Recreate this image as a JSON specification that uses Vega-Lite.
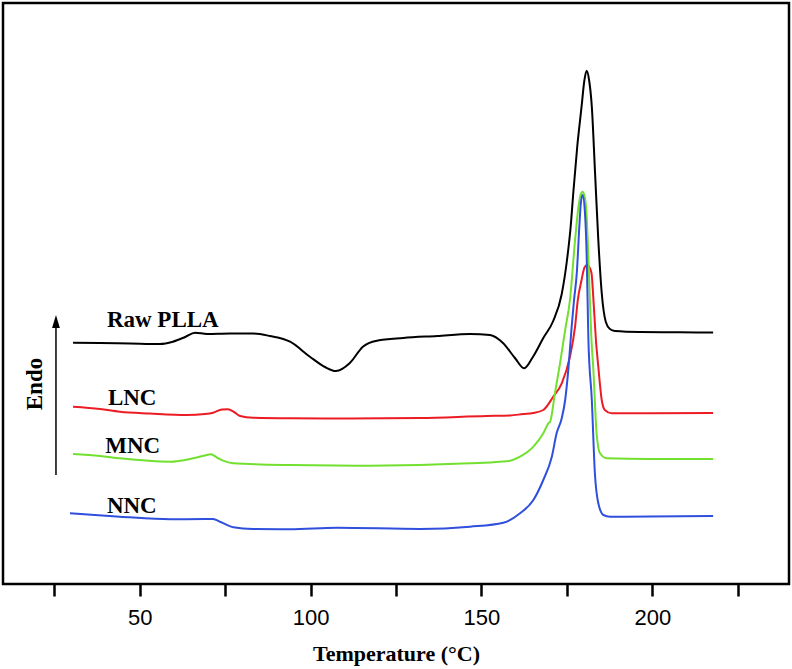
{
  "$schema": "https://vega.github.io/schema/vega-lite/v6.json",
  "width": 786,
  "height": 581,
  "autosize": "none",
  "padding": {"left": 3, "top": 3, "right": 3, "bottom": 85},
  "background": "white",
  "config": {
    "view": {"stroke": "black", "strokeWidth": 2.5},
    "text": {"font": "Liberation Serif"}
  },
  "datasets": {
    "curves": [
      {"sample": "Raw PLLA", "T": 30.5, "Q": 241.3},
      {"sample": "Raw PLLA", "T": 38.4, "Q": 241.0},
      {"sample": "Raw PLLA", "T": 47.2, "Q": 240.5},
      {"sample": "Raw PLLA", "T": 55.9, "Q": 240.0},
      {"sample": "Raw PLLA", "T": 59.7, "Q": 242.3},
      {"sample": "Raw PLLA", "T": 63.3, "Q": 247.0},
      {"sample": "Raw PLLA", "T": 66.2, "Q": 251.3},
      {"sample": "Raw PLLA", "T": 69.7, "Q": 250.0},
      {"sample": "Raw PLLA", "T": 76.4, "Q": 250.5},
      {"sample": "Raw PLLA", "T": 83.2, "Q": 250.5},
      {"sample": "Raw PLLA", "T": 88.1, "Q": 248.0},
      {"sample": "Raw PLLA", "T": 94.0, "Q": 242.3},
      {"sample": "Raw PLLA", "T": 99.8, "Q": 227.3},
      {"sample": "Raw PLLA", "T": 104.2, "Q": 217.0},
      {"sample": "Raw PLLA", "T": 107.4, "Q": 213.0},
      {"sample": "Raw PLLA", "T": 111.5, "Q": 221.0},
      {"sample": "Raw PLLA", "T": 115.3, "Q": 237.3},
      {"sample": "Raw PLLA", "T": 119.4, "Q": 243.3},
      {"sample": "Raw PLLA", "T": 127.1, "Q": 246.0},
      {"sample": "Raw PLLA", "T": 137.0, "Q": 248.0},
      {"sample": "Raw PLLA", "T": 146.7, "Q": 250.0},
      {"sample": "Raw PLLA", "T": 152.5, "Q": 249.0},
      {"sample": "Raw PLLA", "T": 156.3, "Q": 241.0},
      {"sample": "Raw PLLA", "T": 159.8, "Q": 226.0},
      {"sample": "Raw PLLA", "T": 162.5, "Q": 215.7},
      {"sample": "Raw PLLA", "T": 165.1, "Q": 227.3},
      {"sample": "Raw PLLA", "T": 168.1, "Q": 246.0},
      {"sample": "Raw PLLA", "T": 171.0, "Q": 263.0},
      {"sample": "Raw PLLA", "T": 173.5, "Q": 290.0},
      {"sample": "Raw PLLA", "T": 175.0, "Q": 323.0},
      {"sample": "Raw PLLA", "T": 176.1, "Q": 357.0},
      {"sample": "Raw PLLA", "T": 176.9, "Q": 392.0},
      {"sample": "Raw PLLA", "T": 178.05, "Q": 438.0},
      {"sample": "Raw PLLA", "T": 179.3, "Q": 477.3},
      {"sample": "Raw PLLA", "T": 180.1, "Q": 503.0},
      {"sample": "Raw PLLA", "T": 180.8, "Q": 513.3},
      {"sample": "Raw PLLA", "T": 181.5, "Q": 504.0},
      {"sample": "Raw PLLA", "T": 182.3, "Q": 477.3},
      {"sample": "Raw PLLA", "T": 183.25, "Q": 411.0},
      {"sample": "Raw PLLA", "T": 184.2, "Q": 344.0},
      {"sample": "Raw PLLA", "T": 185.2, "Q": 291.0},
      {"sample": "Raw PLLA", "T": 186.4, "Q": 262.0},
      {"sample": "Raw PLLA", "T": 187.6, "Q": 255.0},
      {"sample": "Raw PLLA", "T": 189.1, "Q": 253.0},
      {"sample": "Raw PLLA", "T": 196.4, "Q": 252.0},
      {"sample": "Raw PLLA", "T": 208.1, "Q": 251.7},
      {"sample": "Raw PLLA", "T": 217.8, "Q": 251.5},

      {"sample": "LNC", "T": 30.5, "Q": 177.3},
      {"sample": "LNC", "T": 38.4, "Q": 175.0},
      {"sample": "LNC", "T": 44.2, "Q": 172.3},
      {"sample": "LNC", "T": 53.0, "Q": 170.5},
      {"sample": "LNC", "T": 63.8, "Q": 169.0},
      {"sample": "LNC", "T": 69.1, "Q": 170.0},
      {"sample": "LNC", "T": 71.5, "Q": 171.3},
      {"sample": "LNC", "T": 74.1, "Q": 174.5},
      {"sample": "LNC", "T": 75.8, "Q": 174.7},
      {"sample": "LNC", "T": 77.6, "Q": 172.0},
      {"sample": "LNC", "T": 79.4, "Q": 168.0},
      {"sample": "LNC", "T": 83.2, "Q": 166.3},
      {"sample": "LNC", "T": 94.0, "Q": 165.7},
      {"sample": "LNC", "T": 111.5, "Q": 165.5},
      {"sample": "LNC", "T": 132.0, "Q": 166.0},
      {"sample": "LNC", "T": 151.5, "Q": 168.0},
      {"sample": "LNC", "T": 158.4, "Q": 168.5},
      {"sample": "LNC", "T": 162.2, "Q": 170.0},
      {"sample": "LNC", "T": 165.1, "Q": 171.0},
      {"sample": "LNC", "T": 168.1, "Q": 174.0},
      {"sample": "LNC", "T": 171.0, "Q": 187.3},
      {"sample": "LNC", "T": 173.5, "Q": 200.7},
      {"sample": "LNC", "T": 175.9, "Q": 227.3},
      {"sample": "LNC", "T": 177.4, "Q": 257.3},
      {"sample": "LNC", "T": 178.2, "Q": 284.0},
      {"sample": "LNC", "T": 179.3, "Q": 304.0},
      {"sample": "LNC", "T": 180.1, "Q": 316.0},
      {"sample": "LNC", "T": 180.9, "Q": 319.0},
      {"sample": "LNC", "T": 181.7, "Q": 316.0},
      {"sample": "LNC", "T": 182.2, "Q": 311.0},
      {"sample": "LNC", "T": 182.9, "Q": 277.3},
      {"sample": "LNC", "T": 183.5, "Q": 244.0},
      {"sample": "LNC", "T": 184.2, "Q": 217.3},
      {"sample": "LNC", "T": 185.2, "Q": 184.0},
      {"sample": "LNC", "T": 186.1, "Q": 174.0},
      {"sample": "LNC", "T": 188.1, "Q": 170.7},
      {"sample": "LNC", "T": 199.3, "Q": 170.7},
      {"sample": "LNC", "T": 217.8, "Q": 171.0},

      {"sample": "MNC", "T": 30.5, "Q": 130.0},
      {"sample": "MNC", "T": 38.4, "Q": 128.0},
      {"sample": "MNC", "T": 44.2, "Q": 125.7},
      {"sample": "MNC", "T": 58.9, "Q": 122.3},
      {"sample": "MNC", "T": 65.6, "Q": 125.7},
      {"sample": "MNC", "T": 69.1, "Q": 128.5},
      {"sample": "MNC", "T": 70.8, "Q": 129.7},
      {"sample": "MNC", "T": 72.6, "Q": 126.5},
      {"sample": "MNC", "T": 74.4, "Q": 123.3},
      {"sample": "MNC", "T": 77.3, "Q": 120.7},
      {"sample": "MNC", "T": 94.0, "Q": 119.0},
      {"sample": "MNC", "T": 117.4, "Q": 118.3},
      {"sample": "MNC", "T": 146.7, "Q": 120.7},
      {"sample": "MNC", "T": 155.4, "Q": 122.3},
      {"sample": "MNC", "T": 158.4, "Q": 123.3},
      {"sample": "MNC", "T": 161.3, "Q": 127.3},
      {"sample": "MNC", "T": 165.2, "Q": 137.3},
      {"sample": "MNC", "T": 168.1, "Q": 150.7},
      {"sample": "MNC", "T": 169.6, "Q": 160.7},
      {"sample": "MNC", "T": 170.1, "Q": 162.3},
      {"sample": "MNC", "T": 171.5, "Q": 190.7},
      {"sample": "MNC", "T": 173.0, "Q": 220.7},
      {"sample": "MNC", "T": 174.5, "Q": 254.0},
      {"sample": "MNC", "T": 175.9, "Q": 284.0},
      {"sample": "MNC", "T": 177.4, "Q": 344.0},
      {"sample": "MNC", "T": 178.4, "Q": 377.3},
      {"sample": "MNC", "T": 179.0, "Q": 389.0},
      {"sample": "MNC", "T": 179.6, "Q": 392.3},
      {"sample": "MNC", "T": 180.0, "Q": 390.0},
      {"sample": "MNC", "T": 180.6, "Q": 377.3},
      {"sample": "MNC", "T": 181.3, "Q": 327.3},
      {"sample": "MNC", "T": 181.8, "Q": 277.3},
      {"sample": "MNC", "T": 182.2, "Q": 244.0},
      {"sample": "MNC", "T": 182.7, "Q": 217.3},
      {"sample": "MNC", "T": 183.7, "Q": 150.7},
      {"sample": "MNC", "T": 184.7, "Q": 130.7},
      {"sample": "MNC", "T": 186.7, "Q": 125.7},
      {"sample": "MNC", "T": 199.3, "Q": 125.0},
      {"sample": "MNC", "T": 217.8, "Q": 125.0},

      {"sample": "NNC", "T": 29.6, "Q": 70.7},
      {"sample": "NNC", "T": 44.2, "Q": 67.3},
      {"sample": "NNC", "T": 58.9, "Q": 64.7},
      {"sample": "NNC", "T": 69.1, "Q": 65.0},
      {"sample": "NNC", "T": 71.5, "Q": 65.0},
      {"sample": "NNC", "T": 73.5, "Q": 62.3},
      {"sample": "NNC", "T": 77.4, "Q": 56.7},
      {"sample": "NNC", "T": 83.2, "Q": 55.0},
      {"sample": "NNC", "T": 94.0, "Q": 54.7},
      {"sample": "NNC", "T": 107.7, "Q": 56.3},
      {"sample": "NNC", "T": 132.0, "Q": 55.0},
      {"sample": "NNC", "T": 146.7, "Q": 57.3},
      {"sample": "NNC", "T": 156.4, "Q": 61.3},
      {"sample": "NNC", "T": 161.3, "Q": 70.7},
      {"sample": "NNC", "T": 165.2, "Q": 84.0},
      {"sample": "NNC", "T": 168.1, "Q": 104.0},
      {"sample": "NNC", "T": 170.6, "Q": 127.3},
      {"sample": "NNC", "T": 172.0, "Q": 150.7},
      {"sample": "NNC", "T": 173.5, "Q": 165.7},
      {"sample": "NNC", "T": 174.5, "Q": 184.0},
      {"sample": "NNC", "T": 175.5, "Q": 217.3},
      {"sample": "NNC", "T": 176.4, "Q": 257.3},
      {"sample": "NNC", "T": 177.1, "Q": 284.0},
      {"sample": "NNC", "T": 177.9, "Q": 310.7},
      {"sample": "NNC", "T": 178.7, "Q": 360.7},
      {"sample": "NNC", "T": 179.1, "Q": 381.0},
      {"sample": "NNC", "T": 179.6, "Q": 389.0},
      {"sample": "NNC", "T": 180.3, "Q": 370.7},
      {"sample": "NNC", "T": 180.8, "Q": 327.3},
      {"sample": "NNC", "T": 181.1, "Q": 277.3},
      {"sample": "NNC", "T": 181.3, "Q": 244.0},
      {"sample": "NNC", "T": 182.3, "Q": 184.0},
      {"sample": "NNC", "T": 183.2, "Q": 110.7},
      {"sample": "NNC", "T": 184.2, "Q": 80.7},
      {"sample": "NNC", "T": 185.7, "Q": 69.0},
      {"sample": "NNC", "T": 187.6, "Q": 67.3},
      {"sample": "NNC", "T": 199.3, "Q": 67.5},
      {"sample": "NNC", "T": 217.8, "Q": 68.0}
    ],
    "labels": [
      {"text": "Raw PLLA", "T": 40.4, "Q": 257},
      {"text": "LNC", "T": 40.7, "Q": 179},
      {"text": "MNC", "T": 39.9, "Q": 131.5},
      {"text": "NNC", "T": 40.4, "Q": 71.5}
    ],
    "endo": [
      {"text": "Endo", "T": 19.3, "Q": 200}
    ],
    "arrow": [
      {"T": 25.5, "Q": 109, "Q2": 256, "tipQ": 262.5}
    ]
  },
  "layer": [
    {
      "data": {"name": "curves"},
      "mark": {"type": "line", "interpolate": "monotone", "strokeWidth": 2},
      "encoding": {
        "x": {
          "field": "T", "type": "quantitative",
          "scale": {"domain": [10, 240], "nice": false, "zero": false},
          "axis": {
            "values": [25, 50, 75, 100, 125, 150, 175, 200, 225],
            "labelExpr": "datum.value % 50 === 0 ? datum.label : ''",
            "grid": false,
            "domain": false,
            "ticks": true,
            "tickColor": "black",
            "tickWidth": 2.5,
            "tickSize": 12,
            "encode": {"ticks": {"update": {"y2": {"signal": "datum.value % 50 === 0 ? 12 : 6"}}}},
            "labelFont": "Liberation Sans",
            "labelFontSize": 22,
            "labelColor": "black",
            "labelPadding": 11,
            "labelFlush": false,
            "title": "Temperature (°C)",
            "titleFont": "Liberation Serif",
            "titleFontSize": 22,
            "titleFontWeight": "bold",
            "titleColor": "black",
            "titlePadding": 15
          }
        },
        "y": {
          "field": "Q", "type": "quantitative",
          "scale": {"domain": [0, 581], "nice": false, "zero": false},
          "axis": null
        },
        "color": {
          "field": "sample", "type": "nominal",
          "scale": {"domain": ["Raw PLLA", "LNC", "MNC", "NNC"], "range": ["#000000", "#ec1c24", "#72e02e", "#2f4fdc"]},
          "legend": null
        }
      }
    },
    {
      "data": {"name": "labels"},
      "mark": {"type": "text", "align": "left", "baseline": "alphabetic", "font": "Liberation Serif", "fontSize": 23, "fontWeight": "bold", "color": "black"},
      "encoding": {
        "x": {"field": "T", "type": "quantitative"},
        "y": {"field": "Q", "type": "quantitative"},
        "text": {"field": "text"}
      }
    },
    {
      "data": {"name": "endo"},
      "mark": {"type": "text", "align": "center", "baseline": "middle", "angle": 270, "font": "Liberation Serif", "fontSize": 23, "fontWeight": "bold", "color": "black"},
      "encoding": {
        "x": {"field": "T", "type": "quantitative"},
        "y": {"field": "Q", "type": "quantitative"},
        "text": {"field": "text"}
      }
    },
    {
      "data": {"name": "arrow"},
      "mark": {"type": "rule", "color": "black", "strokeWidth": 1.5},
      "encoding": {
        "x": {"field": "T", "type": "quantitative"},
        "y": {"field": "Q", "type": "quantitative"},
        "y2": {"field": "Q2"}
      }
    },
    {
      "data": {"name": "arrow"},
      "mark": {"type": "point", "shape": "M0,-1L0.6,1L-0.6,1Z", "filled": true, "color": "black", "size": 169, "opacity": 1},
      "encoding": {
        "x": {"field": "T", "type": "quantitative"},
        "y": {"field": "tipQ", "type": "quantitative"}
      }
    }
  ]
}
